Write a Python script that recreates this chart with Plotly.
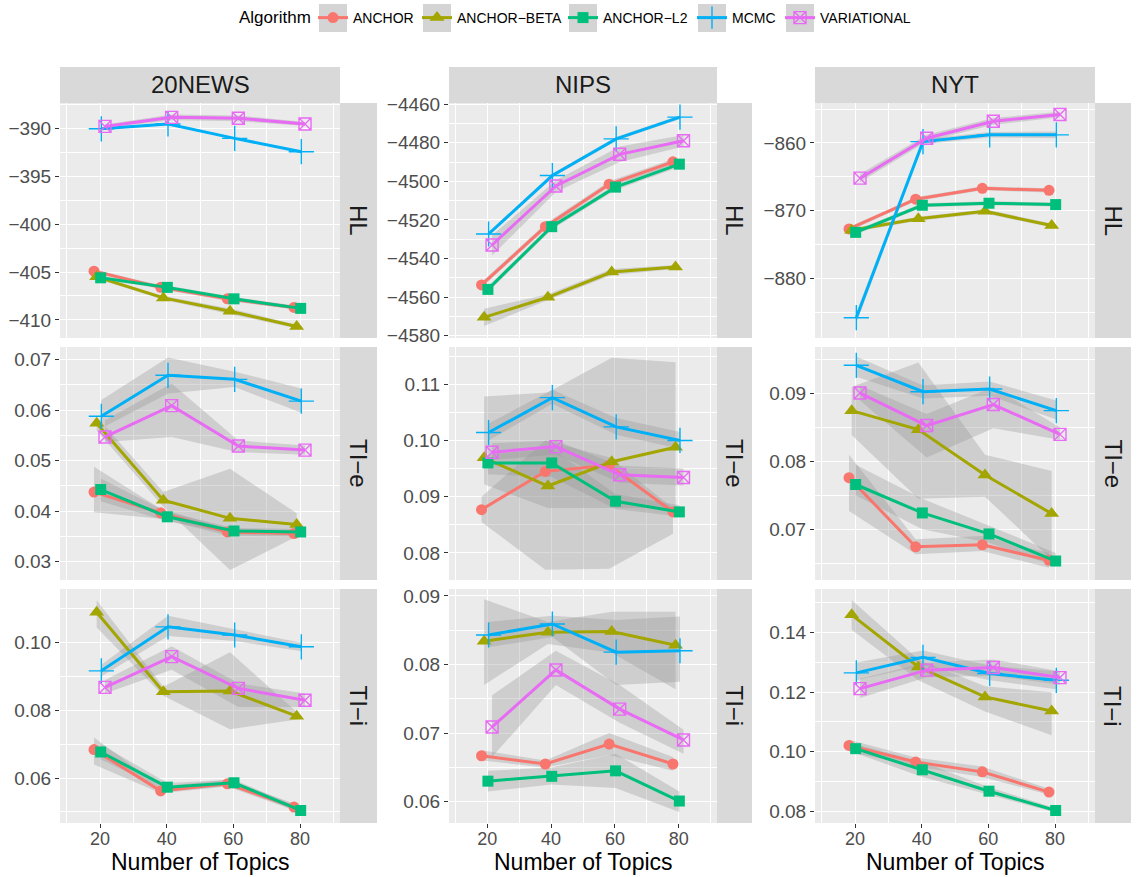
import plotly.graph_objects as go

W, H = 1138, 877

# ---------------- data ----------------
topics = [20, 40, 60, 80]
algorithms = ["ANCHOR", "ANCHOR\u2212BETA", "ANCHOR\u2212L2", "MCMC", "VARIATIONAL"]
datasets = ["20NEWS", "NIPS", "NYT"]
metrics = ["HL", "TI\u2212e", "TI\u2212i"]

# 20NEWS / HL
news_hl_mean = {
    "ANCHOR": [-404.9, -406.6, -407.8, -408.7],
    "ANCHOR\u2212BETA": [-405.5, -407.7, -409.1, -410.7],
    "ANCHOR\u2212L2": [-405.6, -406.6, -407.8, -408.8],
    "MCMC": [-390.0, -389.5, -391.0, -392.4],
    "VARIATIONAL": [-389.75, -388.8, -388.9, -389.5],
}
news_hl_lo = {
    "ANCHOR": [-405.1, -406.8, -408.0, -408.9],
    "ANCHOR\u2212BETA": [-405.7, -407.9, -409.4, -410.9],
    "ANCHOR\u2212L2": [-405.8, -406.8, -408.0, -409.0],
    "MCMC": [-390.1, -389.6, -391.1, -392.5],
    "VARIATIONAL": [-389.95, -389.1, -389.2, -389.7],
}
news_hl_hi = {
    "ANCHOR": [-404.7, -406.4, -407.6, -408.5],
    "ANCHOR\u2212BETA": [-405.3, -407.5, -408.8, -410.5],
    "ANCHOR\u2212L2": [-405.4, -406.4, -407.6, -408.6],
    "MCMC": [-389.9, -389.4, -390.9, -392.3],
    "VARIATIONAL": [-389.55, -388.5, -388.6, -389.3],
}

# NIPS / HL
nips_hl_mean = {
    "ANCHOR": [-4553.7, -4523.5, -4501.5, -4489.9],
    "ANCHOR\u2212BETA": [-4570.5, -4560.1, -4547.0, -4544.4],
    "ANCHOR\u2212L2": [-4556.0, -4523.5, -4503.0, -4491.1],
    "MCMC": [-4527.3, -4497.0, -4478.0, -4466.7],
    "VARIATIONAL": [-4533.0, -4502.4, -4486.0, -4479.0],
}
nips_hl_lo = {
    "ANCHOR": [-4555.2, -4525.0, -4503.0, -4491.4],
    "ANCHOR\u2212BETA": [-4575.0, -4561.5, -4548.5, -4545.5],
    "ANCHOR\u2212L2": [-4557.5, -4525.0, -4504.5, -4492.6],
    "MCMC": [-4528.3, -4498.0, -4479.0, -4467.7],
    "VARIATIONAL": [-4538.5, -4505.5, -4490.0, -4482.0],
}
nips_hl_hi = {
    "ANCHOR": [-4552.2, -4522.0, -4500.0, -4488.4],
    "ANCHOR\u2212BETA": [-4566.0, -4558.5, -4545.5, -4543.3],
    "ANCHOR\u2212L2": [-4554.5, -4522.0, -4501.5, -4489.6],
    "MCMC": [-4526.3, -4496.0, -4477.0, -4465.7],
    "VARIATIONAL": [-4528.0, -4499.5, -4482.0, -4476.0],
}

# NYT / HL
nyt_hl_mean = {
    "ANCHOR": [-872.7, -868.3, -866.7, -867.0],
    "ANCHOR\u2212BETA": [-872.9, -871.2, -870.1, -872.2],
    "ANCHOR\u2212L2": [-873.2, -869.2, -868.9, -869.1],
    "MCMC": [-885.8, -859.8, -858.8, -858.8],
    "VARIATIONAL": [-865.2, -859.3, -856.8, -855.8],
}
nyt_hl_lo = {
    "ANCHOR": [-873.0, -868.6, -867.0, -867.3],
    "ANCHOR\u2212BETA": [-873.2, -871.5, -870.4, -872.5],
    "ANCHOR\u2212L2": [-873.5, -869.5, -869.2, -869.4],
    "MCMC": [-886.6, -860.2, -859.2, -859.3],
    "VARIATIONAL": [-865.8, -859.8, -857.3, -856.2],
}
nyt_hl_hi = {
    "ANCHOR": [-872.4, -868.0, -866.4, -866.7],
    "ANCHOR\u2212BETA": [-872.6, -870.9, -869.8, -871.9],
    "ANCHOR\u2212L2": [-872.9, -868.9, -868.6, -868.8],
    "MCMC": [-885.0, -859.4, -858.4, -858.3],
    "VARIATIONAL": [-864.6, -858.8, -856.3, -855.4],
}

# 20NEWS / TI-e
news_tie_mean = {
    "ANCHOR": [0.0438, 0.0397, 0.0359, 0.0356],
    "ANCHOR\u2212BETA": [0.0574, 0.0422, 0.0386, 0.0374],
    "ANCHOR\u2212L2": [0.0443, 0.0389, 0.0361, 0.0359],
    "MCMC": [0.0588, 0.0669, 0.0661, 0.0618],
    "VARIATIONAL": [0.0547, 0.0609, 0.0529, 0.0521],
}
news_tie_lo = {
    "ANCHOR": [0.0398, 0.0385, 0.0352, 0.0350],
    "ANCHOR\u2212BETA": [0.0560, 0.0409, 0.0284, 0.0350],
    "ANCHOR\u2212L2": [0.0420, 0.0380, 0.0355, 0.0353],
    "MCMC": [0.0564, 0.0633, 0.0646, 0.0595],
    "VARIATIONAL": [0.0537, 0.0547, 0.0517, 0.0512],
}
news_tie_hi = {
    "ANCHOR": [0.0488, 0.0405, 0.0366, 0.0362],
    "ANCHOR\u2212BETA": [0.0587, 0.0438, 0.0484, 0.0396],
    "ANCHOR\u2212L2": [0.0465, 0.0398, 0.0367, 0.0365],
    "MCMC": [0.0620, 0.0704, 0.0676, 0.0643],
    "VARIATIONAL": [0.0580, 0.0653, 0.0540, 0.0530],
}

# NIPS / TI-e
nips_tie_mean = {
    "ANCHOR": [0.0877, 0.0945, 0.0956, 0.0873],
    "ANCHOR\u2212BETA": [0.0969, 0.0919, 0.0962, 0.0988],
    "ANCHOR\u2212L2": [0.0960, 0.0960, 0.0892, 0.0873],
    "MCMC": [0.1014, 0.1076, 0.1024, 0.1000],
    "VARIATIONAL": [0.0979, 0.0989, 0.0939, 0.0934],
}
nips_tie_lo = {
    "ANCHOR": [0.0855, 0.0770, 0.0772, 0.0834],
    "ANCHOR\u2212BETA": [0.0922, 0.0880, 0.0880, 0.0880],
    "ANCHOR\u2212L2": [0.0940, 0.0935, 0.0878, 0.0865],
    "MCMC": [0.1000, 0.1065, 0.1010, 0.0985],
    "VARIATIONAL": [0.0965, 0.0975, 0.0925, 0.0920],
}
nips_tie_hi = {
    "ANCHOR": [0.0900, 0.1000, 0.0970, 0.0880],
    "ANCHOR\u2212BETA": [0.1078, 0.1085, 0.1147, 0.1139],
    "ANCHOR\u2212L2": [0.0975, 0.0985, 0.0905, 0.0885],
    "MCMC": [0.1030, 0.1090, 0.1040, 0.1015],
    "VARIATIONAL": [0.0995, 0.1000, 0.0955, 0.0950],
}

# NYT / TI-e
nyt_tie_mean = {
    "ANCHOR": [0.0776, 0.0674, 0.0677, 0.0654],
    "ANCHOR\u2212BETA": [0.0875, 0.0847, 0.0780, 0.0723],
    "ANCHOR\u2212L2": [0.0766, 0.0724, 0.0693, 0.0653],
    "MCMC": [0.0942, 0.0903, 0.0907, 0.0875],
    "VARIATIONAL": [0.0901, 0.0853, 0.0884, 0.0840],
}
nyt_tie_lo = {
    "ANCHOR": [0.0727, 0.0663, 0.0668, 0.0643],
    "ANCHOR\u2212BETA": [0.0839, 0.0745, 0.0748, 0.0655],
    "ANCHOR\u2212L2": [0.0750, 0.0700, 0.0680, 0.0645],
    "MCMC": [0.0925, 0.0893, 0.0897, 0.0862],
    "VARIATIONAL": [0.0890, 0.0806, 0.0849, 0.0832],
}
nyt_tie_hi = {
    "ANCHOR": [0.0810, 0.0685, 0.0690, 0.0665],
    "ANCHOR\u2212BETA": [0.0910, 0.0946, 0.0810, 0.0786],
    "ANCHOR\u2212L2": [0.0795, 0.0745, 0.0705, 0.0665],
    "MCMC": [0.0955, 0.0912, 0.0918, 0.0890],
    "VARIATIONAL": [0.0912, 0.0870, 0.0910, 0.0850],
}

# 20NEWS / TI-i
news_tii_mean = {
    "ANCHOR": [0.0684, 0.0562, 0.0583, 0.0514],
    "ANCHOR\u2212BETA": [0.1090, 0.0855, 0.0857, 0.0783],
    "ANCHOR\u2212L2": [0.0677, 0.0573, 0.0586, 0.0504],
    "MCMC": [0.0917, 0.1047, 0.1023, 0.0988],
    "VARIATIONAL": [0.0868, 0.0959, 0.0865, 0.0830],
}
news_tii_lo = {
    "ANCHOR": [0.0640, 0.0555, 0.0575, 0.0505],
    "ANCHOR\u2212BETA": [0.1045, 0.0843, 0.0744, 0.0773],
    "ANCHOR\u2212L2": [0.0655, 0.0562, 0.0578, 0.0497],
    "MCMC": [0.0900, 0.1020, 0.1005, 0.0975],
    "VARIATIONAL": [0.0850, 0.0920, 0.0810, 0.0810],
}
news_tii_hi = {
    "ANCHOR": [0.0720, 0.0575, 0.0595, 0.0525],
    "ANCHOR\u2212BETA": [0.1126, 0.0870, 0.0972, 0.0796],
    "ANCHOR\u2212L2": [0.0700, 0.0585, 0.0595, 0.0512],
    "MCMC": [0.0935, 0.1080, 0.1040, 0.1000],
    "VARIATIONAL": [0.0890, 0.0990, 0.0880, 0.0850],
}

# NIPS / TI-i
nips_tii_mean = {
    "ANCHOR": [0.0667, 0.0655, 0.0684, 0.0655],
    "ANCHOR\u2212BETA": [0.0834, 0.0847, 0.0848, 0.0828],
    "ANCHOR\u2212L2": [0.0630, 0.0637, 0.0645, 0.0601],
    "MCMC": [0.0843, 0.0859, 0.0818, 0.0820],
    "VARIATIONAL": [0.0709, 0.0792, 0.0735, 0.0690],
}
nips_tii_lo = {
    "ANCHOR": [0.0660, 0.0650, 0.0668, 0.0645],
    "ANCHOR\u2212BETA": [0.0770, 0.0830, 0.0817, 0.0764],
    "ANCHOR\u2212L2": [0.0615, 0.0625, 0.0620, 0.0585],
    "MCMC": [0.0825, 0.0840, 0.0770, 0.0775],
    "VARIATIONAL": [0.0665, 0.0770, 0.0715, 0.0670],
}
nips_tii_hi = {
    "ANCHOR": [0.0675, 0.0660, 0.0700, 0.0665],
    "ANCHOR\u2212BETA": [0.0895, 0.0862, 0.0877, 0.0877],
    "ANCHOR\u2212L2": [0.0645, 0.0650, 0.0670, 0.0615],
    "MCMC": [0.0862, 0.0871, 0.0865, 0.0870],
    "VARIATIONAL": [0.0755, 0.0820, 0.0770, 0.0705],
}

# NYT / TI-i
nyt_tii_mean = {
    "ANCHOR": [0.1021, 0.0965, 0.0932, 0.0864],
    "ANCHOR\u2212BETA": [0.1460, 0.1285, 0.1184, 0.1137],
    "ANCHOR\u2212L2": [0.1010, 0.0939, 0.0867, 0.0802],
    "MCMC": [0.1265, 0.1317, 0.1263, 0.1240],
    "VARIATIONAL": [0.1212, 0.1274, 0.1283, 0.1249],
}
nyt_tii_lo = {
    "ANCHOR": [0.1000, 0.0950, 0.0915, 0.0855],
    "ANCHOR\u2212BETA": [0.1410, 0.1240, 0.1135, 0.1055],
    "ANCHOR\u2212L2": [0.0995, 0.0915, 0.0855, 0.0795],
    "MCMC": [0.1240, 0.1290, 0.1240, 0.1210],
    "VARIATIONAL": [0.1180, 0.1250, 0.1255, 0.1225],
}
nyt_tii_hi = {
    "ANCHOR": [0.1040, 0.0980, 0.0950, 0.0875],
    "ANCHOR\u2212BETA": [0.1510, 0.1310, 0.1220, 0.1200],
    "ANCHOR\u2212L2": [0.1025, 0.0965, 0.0880, 0.0810],
    "MCMC": [0.1300, 0.1340, 0.1290, 0.1270],
    "VARIATIONAL": [0.1245, 0.1300, 0.1310, 0.1270],
}

panels = [
    [(news_hl_mean, news_hl_lo, news_hl_hi), (nips_hl_mean, nips_hl_lo, nips_hl_hi), (nyt_hl_mean, nyt_hl_lo, nyt_hl_hi)],
    [(news_tie_mean, news_tie_lo, news_tie_hi), (nips_tie_mean, nips_tie_lo, nips_tie_hi), (nyt_tie_mean, nyt_tie_lo, nyt_tie_hi)],
    [(news_tii_mean, news_tii_lo, news_tii_hi), (nips_tii_mean, nips_tii_lo, nips_tii_hi), (nyt_tii_mean, nyt_tii_lo, nyt_tii_hi)],
]

# y-axis settings per panel: range, major step, tick format
y_ranges = [
    [[-411.9, -387.3], [-4581.2, -4459.4], [-888.8, -854.1]],
    [[0.0264, 0.0725], [0.0752, 0.1166], [0.0625, 0.0969]],
    [[0.0467, 0.1159], [0.0569, 0.0910], [0.0760, 0.1547]],
]
y_steps = [[5, 20, 10], [0.01, 0.01, 0.01], [0.02, 0.01, 0.02]]
y_formats = [["d", "d", "d"], [".2f", ".2f", ".2f"], [".2f", ".2f", ".2f"]]

# ---------------- style ----------------
colors = ["#F8766D", "#A3A500", "#00BF7D", "#00B0F6", "#E76BF3"]
symbols = ["circle", "triangle-up", "square", "cross-thin-open", "square-x-open"]
msizes = [11, 13, 11, 18, 12]
dodge = [-1.8, -1.0, 0.2, 0.4, 1.5]
FONT = "Liberation Sans, Arial, sans-serif"

col_px = [(60, 340, 377), (449, 717, 752), (815, 1095, 1131)]
row_px = [(103, 338), (347, 580), (589, 823)]
strip_top = (67, 103)
legend_keys_px = [319, 423, 569, 698, 786]   # left edge of each legend key box
legend_key_w = 28
legend_cy = 18


def fx(px):
    return px / W


def fy(py):
    return 1 - py / H


fig = go.Figure()
layout = {}
shapes = []
annotations = []

for r in range(3):
    for c in range(3):
        p = r * 3 + c + 1
        xs = "x" if p == 1 else f"x{p}"
        ys = "y" if p == 1 else f"y{p}"
        xa = "xaxis" if p == 1 else f"xaxis{p}"
        ya = "yaxis" if p == 1 else f"yaxis{p}"
        mean, lo, hi = panels[r][c]
        # ribbons
        for i, alg in enumerate(algorithms):
            xx = [t + dodge[i] for t in topics]
            fig.add_trace(go.Scatter(
                x=xx + xx[::-1], y=hi[alg] + lo[alg][::-1],
                xaxis=xs, yaxis=ys, mode="lines", fill="toself",
                fillcolor="rgba(153,153,153,0.35)", line=dict(width=0),
                hoverinfo="skip", showlegend=False))
        # lines + points
        for i, alg in enumerate(algorithms):
            xx = [t + dodge[i] for t in topics]
            open_sym = symbols[i].endswith("open")
            fig.add_trace(go.Scatter(
                x=xx, y=mean[alg], xaxis=xs, yaxis=ys, mode="lines+markers",
                name=alg, legendgroup=alg, showlegend=(p == 1),
                legend="legend" if i == 0 else f"legend{i + 1}",
                line=dict(color=colors[i], width=3),
                marker=dict(symbol=symbols[i], size=msizes[i], color=colors[i],
                            line=dict(color=colors[i], width=1.4 if open_sym else 0))))

        x0, x1, xs_r = col_px[c]
        y0, y1 = row_px[r]
        bottom = r == 2
        layout[xa] = dict(
            domain=[fx(x0), fx(x1)], anchor=ys, range=[8, 92],
            tickmode="linear", tick0=0, dtick=20,
            showticklabels=bottom, ticks="outside" if bottom else "",
            ticklen=4, tickcolor="#333333", tickwidth=1, ticklabelstandoff=-5,
            tickfont=dict(family=FONT, size=18, color="#4D4D4D"),
            showgrid=True, gridcolor="white", gridwidth=1.3,
            minor=dict(tickmode="linear", tick0=0, dtick=10, showgrid=True,
                       gridcolor="white", gridwidth=0.6, ticks=""),
            zeroline=False, showline=False, fixedrange=True)
        step = y_steps[r][c]
        layout[ya] = dict(
            domain=[fy(y1), fy(y0)], anchor=xs, range=y_ranges[r][c],
            tickmode="linear", tick0=0, dtick=step, tickformat=y_formats[r][c],
            ticks="outside", ticklen=4, tickcolor="#333333", tickwidth=1,
            tickfont=dict(family=FONT, size=19, color="#4D4D4D"),
            showgrid=True, gridcolor="white", gridwidth=1.3,
            minor=dict(tickmode="linear", tick0=0, dtick=step / 2, showgrid=True,
                       gridcolor="white", gridwidth=0.6, ticks=""),
            zeroline=False, showline=False, fixedrange=True)
        # panel background
        shapes.append(dict(type="rect", xref="paper", yref="paper", layer="below",
                           x0=fx(x0), x1=fx(x1), y0=fy(y1), y1=fy(y0),
                           fillcolor="#EBEBEB", line=dict(width=0)))
        # right strip
        shapes.append(dict(type="rect", xref="paper", yref="paper", layer="below",
                           x0=fx(x1), x1=fx(xs_r), y0=fy(y1), y1=fy(y0),
                           fillcolor="#D9D9D9", line=dict(width=0)))
        annotations.append(dict(text=metrics[r], xref="paper", yref="paper",
                                x=fx((x1 + xs_r) / 2), y=fy((y0 + y1) / 2),
                                xanchor="center", yanchor="middle",
                                showarrow=False, textangle=90,
                                font=dict(family=FONT, size=24, color="#1A1A1A")))

for c in range(3):
    x0, x1, _ = col_px[c]
    shapes.append(dict(type="rect", xref="paper", yref="paper", layer="below",
                       x0=fx(x0), x1=fx(x1), y0=fy(strip_top[1]), y1=fy(strip_top[0]),
                       fillcolor="#D9D9D9", line=dict(width=0)))
    annotations.append(dict(text=datasets[c], xref="paper", yref="paper",
                            x=fx((x0 + x1) / 2), y=fy((strip_top[0] + strip_top[1]) / 2),
                            xanchor="center", yanchor="middle", showarrow=False,
                            font=dict(family=FONT, size=24, color="#1A1A1A")))
    annotations.append(dict(text="Number of Topics", xref="paper", yref="paper",
                            x=fx((x0 + x1) / 2), y=fy(877), showarrow=False,
                            xanchor="center", yanchor="bottom",
                            font=dict(family=FONT, size=23, color="black")))

# legend: title, key backgrounds and one legend box per algorithm
annotations.append(dict(text="Algorithm", xref="paper", yref="paper",
                        x=fx(237), y=fy(legend_cy), xanchor="left", yanchor="middle",
                        showarrow=False, font=dict(family=FONT, size=17, color="black")))
for i, kx in enumerate(legend_keys_px):
    shapes.append(dict(type="rect", xref="paper", yref="paper", layer="below",
                       x0=fx(kx), x1=fx(kx + legend_key_w),
                       y0=fy(legend_cy + legend_key_w / 2), y1=fy(legend_cy - legend_key_w / 2),
                       fillcolor="#D4D4D4", line=dict(width=0)))
    name = "legend" if i == 0 else f"legend{i + 1}"
    layout[name] = dict(
        x=fx(kx + legend_key_w / 2 - 20), xanchor="left",
        y=fy(legend_cy), yanchor="middle", orientation="h",
        font=dict(family=FONT, size=14, color="black"),
        itemwidth=30, bgcolor="rgba(0,0,0,0)", borderwidth=0)

fig.update_layout(
    width=W, height=H,
    margin=dict(l=0, r=0, t=0, b=0, autoexpand=False),
    paper_bgcolor="white", plot_bgcolor="rgba(0,0,0,0)",
    font=dict(family=FONT),
    shapes=shapes, annotations=annotations,
    showlegend=True,
    **layout)

fig.write_html("out.html", config={"displayModeBar": False},
               post_script="document.body.style.margin='0';document.body.style.overflow='hidden';")
